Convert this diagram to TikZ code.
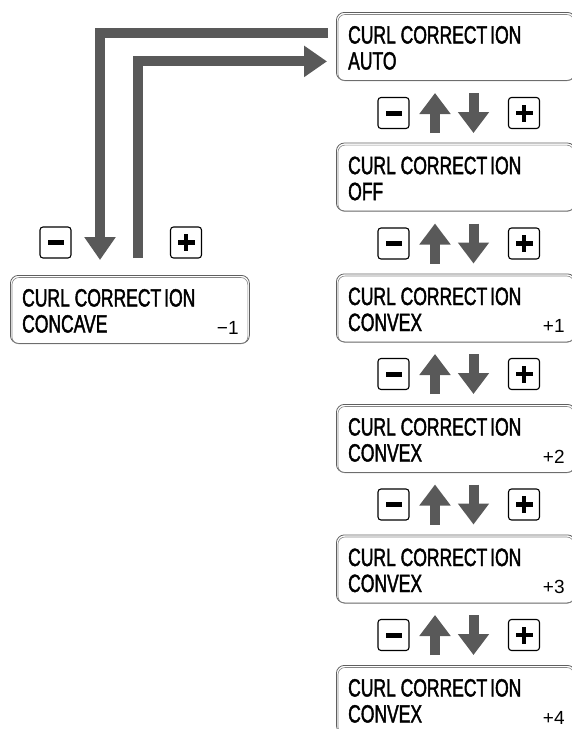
\documentclass[tikz,border=0pt]{standalone}
\usepackage{fontspec}
\setmainfont{Liberation Sans}
\newfontfamily\lcdfont[FakeStretch=0.7,FakeBold=1.6]{Liberation Sans}
\usetikzlibrary{arrows.meta}
\definecolor{arrowgray}{RGB}{89,89,89}
\definecolor{framegray}{RGB}{95,95,95}
\tikzset{
  lcd/.style={draw=framegray, line width=0.8pt, rounded corners=8pt, minimum width=239pt, minimum height=68pt, inner sep=0pt, anchor=north west},
  bevel/.style={draw=framegray!75, line width=0.6pt, rounded corners=7pt},
  lcdtxt/.style={font=\lcdfont\fontsize{25}{25}\selectfont, inner sep=0pt, anchor=base west},
  valtxt/.style={font=\fontsize{19}{19}\selectfont, inner sep=0pt, anchor=base east},
  btn/.style={draw=black, line width=1.1pt, rounded corners=3pt, minimum size=31pt, inner sep=0pt},
  keyarrow/.style={draw=arrowgray, line width=10pt, -{Triangle[width=30pt,length=21pt]}},
  bigarrow/.style={draw=arrowgray, line width=10pt, line join=miter, -{Triangle[width=30pt,length=23pt]}}
}
\newcommand\lcdbox[5]{%
  \node[lcd] (#1) at (#2,#3) {};
  \draw[bevel] ([xshift=2pt,yshift=-2.5pt]#1.north west) rectangle ([xshift=-2pt]#1.south east);
  \node[lcdtxt] (#1-a) at ([xshift=12pt,yshift=-31.5pt]#1.north west) {CURL CORRECT\kern3pt ION};
  \node[lcdtxt] (#1-b) at ([xshift=12pt,yshift=-57.5pt]#1.north west) {#4};
  \node[valtxt] (#1-c) at ([xshift=-11pt,yshift=-59pt]#1.north east) {#5};
}
\newcommand\minusbtn[3]{%
  \node[btn] (#1) at (#2,#3) {};
  \fill[black] ([xshift=-8pt,yshift=-2.5pt]#1.center) rectangle ([xshift=8pt,yshift=2.5pt]#1.center);
}
\newcommand\plusbtn[3]{%
  \node[btn] (#1) at (#2,#3) {};
  \fill[black] ([xshift=-8.5pt,yshift=-2.3pt]#1.center) rectangle ([xshift=8.5pt,yshift=2.3pt]#1.center);
  \fill[black] ([xshift=-2.3pt,yshift=-8.5pt]#1.center) rectangle ([xshift=2.3pt,yshift=8.5pt]#1.center);
}
\newcommand\keyrow[2]{%
  \minusbtn{#1-minus}{393.5}{#2}
  \plusbtn{#1-plus}{524}{#2}
  \coordinate (#1-ub) at (435,#2+20);
  \coordinate (#1-ut) at (435,#2-20);
  \coordinate (#1-dt) at (473.5,#2-20);
  \coordinate (#1-db) at (473.5,#2+20);
  \draw[keyarrow] (#1-ub) -- (#1-ut);
  \draw[keyarrow] (#1-dt) -- (#1-db);
}
\begin{document}
\begin{tikzpicture}[x=1pt,y=-1pt]
\useasboundingbox (0,0) rectangle (572,729);
% right column of displays
\lcdbox{auto}{336}{12}{AUTO}{}
\lcdbox{off}{336}{142.6}{OFF}{}
\lcdbox{cx1}{336}{273.5}{CONVEX}{+1}
\lcdbox{cx2}{336}{404}{CONVEX}{+2}
\lcdbox{cx3}{336}{534.5}{CONVEX}{+3}
\lcdbox{cx4}{336}{665}{CONVEX}{+4}
% key rows
\keyrow{r1}{113}
\keyrow{r2}{243.5}
\keyrow{r3}{374}
\keyrow{r4}{504.5}
\keyrow{r5}{635}
% left display
\lcdbox{cc1}{10}{275}{CONCAVE}{−1}
\minusbtn{l-minus}{55.5}{242.5}
\plusbtn{l-plus}{186}{242.5}
% big arrows
\coordinate (o-start) at ([xshift=-8pt,yshift=13pt]auto.west);
\coordinate (o-end) at ([xshift=90pt,yshift=15pt]cc1.north west);
\draw[bigarrow] (o-start) -| (o-end);
\coordinate (i-start) at ([xshift=128pt,yshift=17pt]cc1.north west);
\coordinate (i-end) at ([xshift=-9pt,yshift=-15pt]auto.west);
\draw[bigarrow] (i-start) |- (i-end);
\end{tikzpicture}
\end{document}
